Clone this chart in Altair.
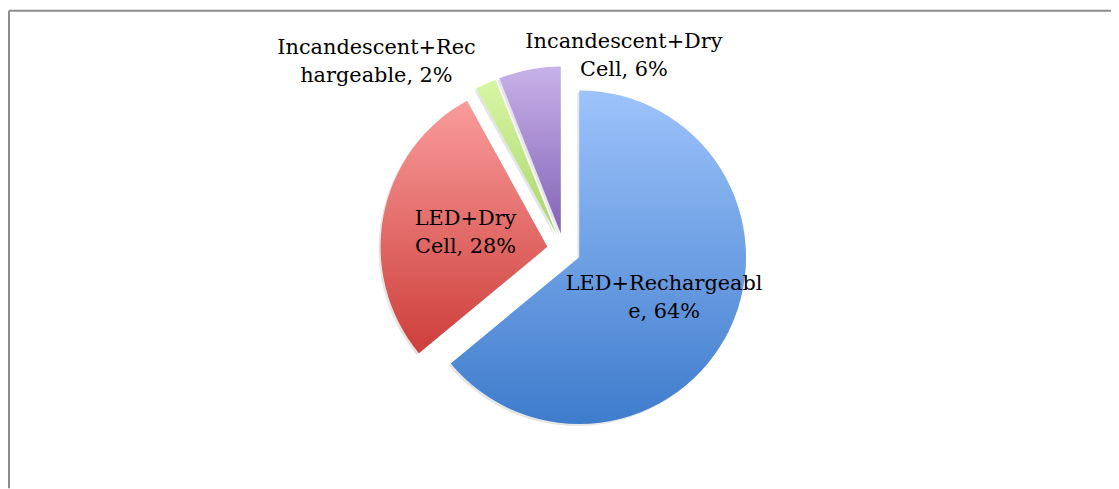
import altair as alt
import pandas as pd

categories = ["LED+Rechargeable", "LED+Dry Cell", "Incandescent+Rechargeable", "Incandescent+Dry Cell"]
values = [64, 28, 2, 6]
label_texts = ["LED+Rechargeabl\ne, 64%", "LED+Dry\nCell, 28%", "Incandescent+Rec\nhargeable, 2%", "Incandescent+Dry\nCell, 6%"]
inside_label = [True, True, False, False]

grad_top = ["#9dc3fb", "#f99c9b", "#d9f6a4", "#c8b2e9"]
grad_bottom = ["#3e7ccc", "#cd3e3a", "#a8d66c", "#8262b6"]

df = pd.DataFrame({"cat": categories, "val": values, "label": label_texts, "inside": inside_label})

W, H = 1111, 481
CX, CY = 559, 241
R = 168
EXPLODE = 17
LABEL_R = 106
OUT_R = 190

base = alt.Chart(df).transform_joinaggregate(
    total="sum(val)"
).transform_window(
    cum="sum(val)", frame=[None, 0]
).transform_calculate(
    t0="(datum.cum - datum.val) / datum.total * 2 * PI",
    t1="datum.cum / datum.total * 2 * PI",
).transform_calculate(
    mid="(datum.t0 + datum.t1) / 2",
).transform_calculate(
    px=f"{CX} + {EXPLODE} * sin(datum.mid)",
    py=f"{CY} - {EXPLODE} * cos(datum.mid)",
    lx=f"{CX} + {LABEL_R} * sin(datum.mid)",
    ly=f"{CY} - {LABEL_R} * cos(datum.mid)",
    ox=f"{CX} + {OUT_R} * sin(datum.mid)",
    oy=f"{CY} - {OUT_R} * cos(datum.mid)",
)

layers = []
# subtle shadow
shadow = base.mark_arc(outerRadius=R, fill="#000000", fillOpacity=0.10).encode(
    theta=alt.Theta("t0:Q", scale=None),
    theta2="t1:Q",
    x=alt.X("sx:Q", scale=None),
    y=alt.Y("sy:Q", scale=None),
).transform_calculate(sx="datum.px - 2", sy="datum.py + 2")
layers.append(shadow)

for i, c in enumerate(categories):
    grad = alt.Gradient(
        gradient="linear",
        stops=[alt.GradientStop(color=grad_top[i], offset=0),
               alt.GradientStop(color=grad_bottom[i], offset=1)],
        x1=0, x2=0, y1=0, y2=1,
    )
    arc = base.transform_filter(alt.datum.cat == c).mark_arc(outerRadius=R, fill=grad).encode(
        theta=alt.Theta("t0:Q", scale=None),
        theta2="t1:Q",
        x=alt.X("px:Q", scale=None),
        y=alt.Y("py:Q", scale=None),
    )
    layers.append(arc)

font = "DejaVu Serif"
fs = 21
LH = 28
inner = base.transform_filter("datum.inside").mark_text(
    font=font, fontSize=fs, lineBreak="\n", lineHeight=LH, color="#000000", align="center", baseline="middle",
    dx=5, dy=-11
).encode(
    x=alt.X("lx:Q", scale=None), y=alt.Y("ly:Q", scale=None), text="label:N"
)
layers.append(inner)

offsets = {"Incandescent+Rechargeable": (-108, -31), "Incandescent+Dry Cell": (96, -23)}
for c, (dx, dy) in offsets.items():
    t = base.transform_filter(alt.datum.cat == c).mark_text(
        font=font, fontSize=fs, lineBreak="\n", lineHeight=LH, color="#000000", align="center", baseline="middle",
        dx=dx, dy=dy
    ).encode(x=alt.X("ox:Q", scale=None), y=alt.Y("oy:Q", scale=None), text="label:N")
    layers.append(t)

border = alt.Chart(pd.DataFrame({"a": [0]}))
top_rule = border.mark_rule(color="#8c8c8c", strokeWidth=2).encode(
    x=alt.value(0), x2=alt.value(W), y=alt.value(0)
)
left_rule = border.mark_rule(color="#8c8c8c", strokeWidth=2).encode(
    x=alt.value(0), y=alt.value(0), y2=alt.value(H)
)
layers += [top_rule, left_rule]

chart = alt.layer(*layers).properties(
    width=W, height=H, padding=0,
    autosize=alt.AutoSizeParams(type="fit", contains="padding"),
).configure_view(strokeWidth=0)

chart.save("out.html", embed_options={"renderer": "svg", "actions": False})
